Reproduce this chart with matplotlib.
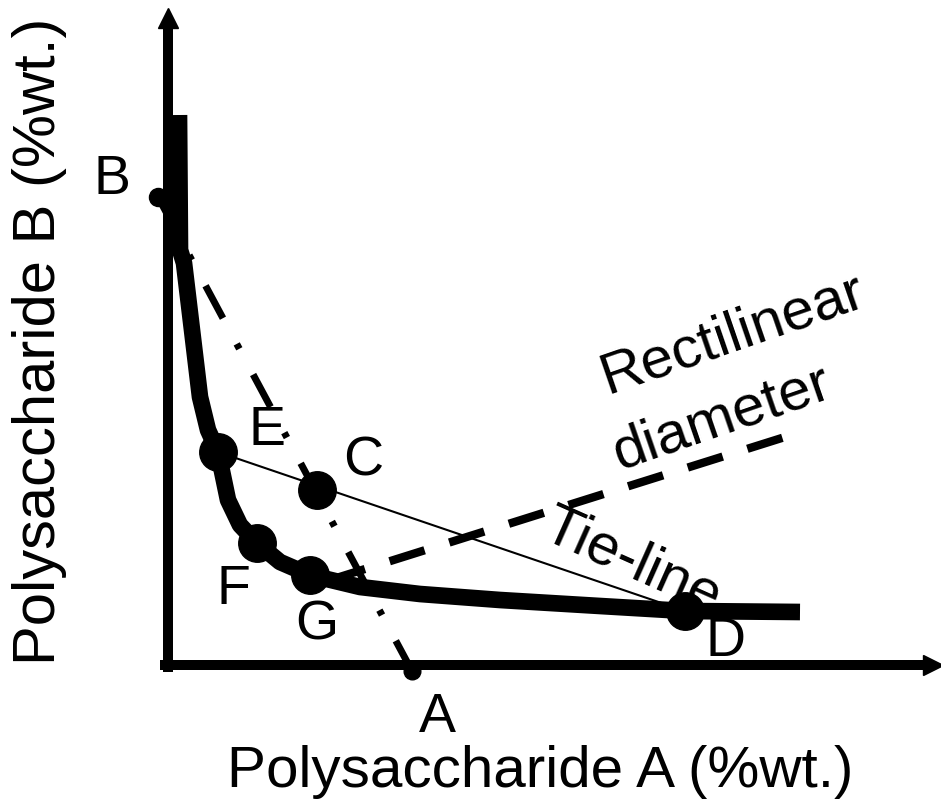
import numpy as np
import matplotlib
matplotlib.use('Agg')
import matplotlib.pyplot as plt

plt.rcParams['font.family'] = ['Liberation Sans', 'DejaVu Sans']

# binodal curve (schematic, %wt. A vs %wt. B)
binodal_a = [0.22, 0.24, 0.32, 0.48, 0.64, 0.80, 1.00, 1.20, 1.44, 1.78, 2.24, 2.84, 3.84, 5.04, 6.64, 8.64, 10.34, 12.64]
binodal_b = [11.0, 8.30, 8.04, 6.70, 5.36, 4.70, 4.26, 3.30, 2.80, 2.44, 2.06, 1.80, 1.56, 1.42, 1.30, 1.18, 1.08, 1.06]

# named compositions
pt_names = ['E', 'F', 'G', 'C', 'D']
pt_a = [1.00, 1.78, 2.84, 2.98, 10.34]
pt_b = [4.26, 2.44, 1.80, 3.50, 1.08]

# pure-polymer ends of the dilution line
B_point = (-0.20, 9.36)
A_point = (4.88, -0.12)

# rectilinear diameter
diam_a = [3.24, 12.34]
diam_b = [1.70, 4.56]

fig = plt.figure(figsize=(9.41, 8.09), dpi=100)
ax = fig.add_axes([0, 0, 1, 1])
ax.set_xlim(-3.36, 15.46)
ax.set_ylim(-2.88, 13.3)
ax.axis('off')

# axes with arrows
ax.plot([0, 0], [-0.14, 12.9], color='black', lw=7.2, solid_capstyle='butt')
ax.plot([-0.16, 15.2], [0, 0], color='black', lw=7.2, solid_capstyle='butt')
ax.plot([0], [12.95], marker='^', ms=15, color='black')
ax.plot([15.3], [0], marker='>', ms=15, color='black')

# dilution line B -> A (dash-dot)
ax.plot([B_point[0], A_point[0]], [B_point[1], A_point[1]], color='black', lw=5,
        linestyle=(0, (5.3, 4.2, 0.8, 4.2)), dash_capstyle='butt')
ax.plot([B_point[0]], [B_point[1]], 'o', color='black', ms=13)
ax.plot([A_point[0]], [A_point[1]], 'o', color='black', ms=12)

# binodal
ax.plot(binodal_a, binodal_b, color='black', lw=12, solid_capstyle='butt', solid_joinstyle='round')

# tie-line E-D
ax.plot([pt_a[0], pt_a[4]], [pt_b[0], pt_b[4]], color='black', lw=1.5)

# rectilinear diameter
ax.plot(diam_a, diam_b, color='black', lw=6, linestyle=(0, (4.4, 3.1)), dash_capstyle='butt')

# points
ax.plot(pt_a, pt_b, 'o', color='black', ms=27)

fs = 40
lbl_pos = {'E': (1.98, 4.68), 'F': (1.30, 1.50), 'G': (2.98, 0.78), 'C': (3.90, 4.06), 'D': (11.16, 0.46)}
for n in pt_names:
    ax.text(lbl_pos[n][0], lbl_pos[n][1], n, fontsize=fs, ha='center', va='center')
ax.text(-1.12, 9.70, 'B', fontsize=fs, ha='center', va='center')
ax.text(5.38, -1.06, 'A', fontsize=fs, ha='center', va='center')

ax.text(11.30, 6.62, 'Rectilinear', fontsize=42, rotation=19, ha='center', va='center', rotation_mode='anchor')
ax.text(11.08, 4.94, 'diameter', fontsize=42, rotation=19, ha='center', va='center', rotation_mode='anchor')
ax.text(9.28, 2.06, 'Tie-line', fontsize=42, rotation=-24, ha='center', va='center', rotation_mode='anchor')

ax.text(7.44, -2.14, 'Polysaccharide A (%wt.)', fontsize=42, ha='center', va='center')
ax.text(-2.56, 6.48, 'Polysaccharide B (%wt.)', fontsize=43, rotation=90, ha='center', va='center')

fig.savefig('out.png', dpi=100)
